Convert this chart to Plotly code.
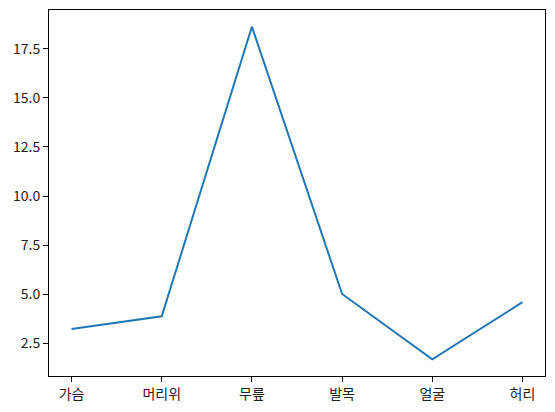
import plotly.graph_objects as go

parts = ["가슴", "머리위", "무릎", "발목", "얼굴", "허리"]
values = [3.23, 3.87, 18.63, 5.01, 1.68, 4.59]
y_ticks = [2.5, 5.0, 7.5, 10.0, 12.5, 15.0, 17.5]

fig = go.Figure()
fig.add_trace(go.Scatter(
    x=parts,
    y=values,
    mode="lines",
    line=dict(color="#1f77b4", width=2),
))

axis_style = dict(
    showline=True,
    linecolor="black",
    linewidth=1,
    mirror=True,
    ticks="outside",
    ticklen=5,
    tickwidth=1,
    tickcolor="black",
    showgrid=False,
    zeroline=False,
    tickfont=dict(family="Noto Sans CJK KR", size=14, color="#222"),
)

fig.update_layout(
    width=555,
    height=412,
    margin=dict(l=49, r=10, t=9, b=34),
    plot_bgcolor="white",
    paper_bgcolor="white",
    showlegend=False,
    xaxis=dict(type="category", range=[-0.25, 5.25], **axis_style),
    yaxis=dict(range=[0.83, 19.48], tickvals=y_ticks,
               ticktext=[f"{v:.1f}" for v in y_ticks], **axis_style),
)

# page body has a default 8px margin; drop it so the chart sits at 0,0
fig.write_html("out.html",
               config={"displayModeBar": False},
               post_script="document.body.style.margin='0';document.body.style.overflow='hidden';")
